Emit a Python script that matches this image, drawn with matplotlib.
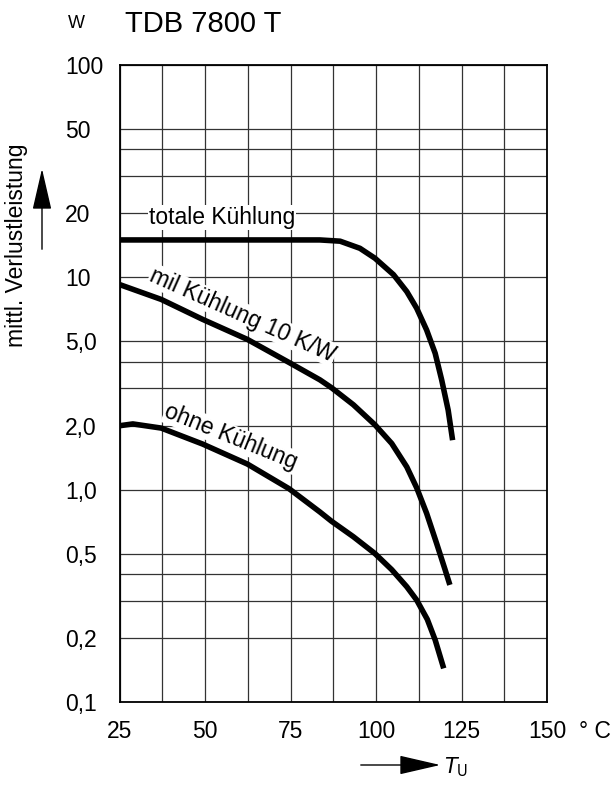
import matplotlib
matplotlib.use('Agg')
from matplotlib import pyplot as plt
from matplotlib import font_manager
from matplotlib.ticker import NullLocator

# Schmale Schrift wie im Datenblatt (falls vorhanden)
avail = {f.name for f in font_manager.fontManager.ttflist}
narrow = 'Liberation Sans Narrow' if 'Liberation Sans Narrow' in avail else 'Liberation Sans'

# Achsen / Beschriftung
x_ticks = [25, 50, 75, 100, 125, 150]
x_ticklabels = ['25', '50', '75', '100', '125', '150']
y_ticks = [100, 50, 20, 10, 5, 2, 1, 0.5, 0.2, 0.1]
y_ticklabels = ['100', '50', '20', '10', '5,0', '2,0', '1,0', '0,5', '0,2', '0,1']
grid_x = [25, 37.5, 50, 62.5, 75, 87.5, 100, 112.5, 125, 137.5, 150]
grid_y = [0.1, 0.2, 0.3, 0.4, 0.5, 1, 2, 3, 4, 5, 10, 20, 30, 40, 50, 100]

# Kurven
totale_x = [25, 40, 55, 70, 83.6, 89.5, 95.3, 99.7, 105.1, 109.0, 111.9, 114.8, 117.3, 119.2, 121.1, 122.4]
totale_y = [15, 15, 15, 15, 15, 14.8, 13.7, 12.3, 10.3, 8.57, 7.15, 5.65, 4.39, 3.29, 2.37, 1.71]

mit_x = [25, 37.2, 49.3, 62.4, 74.6, 83.6, 87.0, 93.4, 99.7, 104.6, 109.0, 111.9, 114.8, 117.7, 120.2, 121.6]
mit_y = [9.25, 7.87, 6.34, 5.1, 3.97, 3.29, 3.02, 2.51, 2.02, 1.65, 1.28, 1.02, 0.774, 0.56, 0.42, 0.356]

ohne_x = [25, 28.9, 37.2, 49.3, 62.4, 74.6, 83.6, 87.0, 93.4, 99.7, 104.6, 109.0, 111.9, 115.0, 117.3, 119.8]
ohne_y = [2.0, 2.04, 1.95, 1.64, 1.32, 1.01, 0.785, 0.71, 0.60, 0.50, 0.42, 0.349, 0.302, 0.245, 0.196, 0.144]

fig = plt.figure(figsize=(6.11, 7.85), dpi=100)
ax = fig.add_axes([119.5 / 611, 1 - 702 / 785, 427.5 / 611, 637 / 785])
ax.set_yscale('log')
ax.set_xlim(25, 150)
ax.set_ylim(0.1, 100)

# Gitter
for gx in grid_x:
    ax.axvline(gx, color='#333333', lw=0.9, zorder=1)
for gy in grid_y:
    ax.axhline(gy, color='#333333', lw=0.9, zorder=1)

ax.plot(totale_x, totale_y, color='k', lw=4, solid_capstyle='butt', zorder=3)
ax.plot(mit_x, mit_y, color='k', lw=4, solid_capstyle='butt', zorder=3)
ax.plot(ohne_x, ohne_y, color='k', lw=4, solid_capstyle='butt', zorder=3)

# Kurvenbeschriftung
box = dict(facecolor='white', edgecolor='none', pad=0.5)
ax.text(55.0, 19.1, 'totale Kühlung', family=narrow, fontsize=16.5,
        ha='center', va='center', zorder=2.5, bbox=box)
ax.text(61.0, 6.65, 'mil Kühlung 10 K/W', family=narrow, fontsize=16.5,
        ha='center', va='center', rotation=-24, rotation_mode='anchor', zorder=2.5, bbox=box)
ax.text(57.6, 1.77, 'ohne Kühlung', family=narrow, fontsize=16.5,
        ha='center', va='center', rotation=-22, rotation_mode='anchor', zorder=2.5, bbox=box)

# Ticks
ax.set_xticks(x_ticks)
ax.set_xticklabels(x_ticklabels, family=narrow, fontsize=16.5)
ax.set_yticks(y_ticks)
ax.set_yticklabels(y_ticklabels, family=narrow, fontsize=16.5)
ax.yaxis.set_minor_locator(NullLocator())
ax.xaxis.set_minor_locator(NullLocator())
ax.tick_params(axis='both', length=0)
ax.tick_params(axis='x', pad=13)
ax.tick_params(axis='y', pad=39)
for lbl in ax.get_yticklabels():
    lbl.set_horizontalalignment('left')

for s in ax.spines.values():
    s.set_linewidth(1.3)
    s.set_color('k')

# Titel und Einheiten
fig.text(203 / 611, 1 - 24 / 785, 'TDB 7800 T', family='Liberation Sans', fontsize=21,
         ha='center', va='center')
fig.text(76 / 611, 1 - 23 / 785, 'W', family=narrow, fontsize=13, ha='center', va='center')
fig.text(17 / 611, 1 - 245 / 785, 'mittl. Verlustleistung', family=narrow, fontsize=16.5,
         rotation=90, ha='center', va='center')
fig.text(595 / 611, 1 - 731 / 785, '° C', family=narrow, fontsize=16.5, ha='center', va='center')
fig.text(444 / 611, 1 - 767 / 785, r'$T_{\mathrm{U}}$', fontsize=15, ha='left', va='center')

# Pfeile
ax.annotate('', xy=(42, 785 - 166), xytext=(42, 785 - 252), xycoords='figure pixels',
            textcoords='figure pixels', annotation_clip=False,
            arrowprops=dict(arrowstyle='-|>,head_length=1.3,head_width=0.3',
                            mutation_scale=20, lw=1.0, color='k'))
ax.annotate('', xy=(443, 785 - 765), xytext=(358, 785 - 765), xycoords='figure pixels',
            textcoords='figure pixels', annotation_clip=False,
            arrowprops=dict(arrowstyle='-|>,head_length=1.3,head_width=0.3',
                            mutation_scale=20, lw=1.0, color='k'))

fig.savefig('out.png', dpi=100)
